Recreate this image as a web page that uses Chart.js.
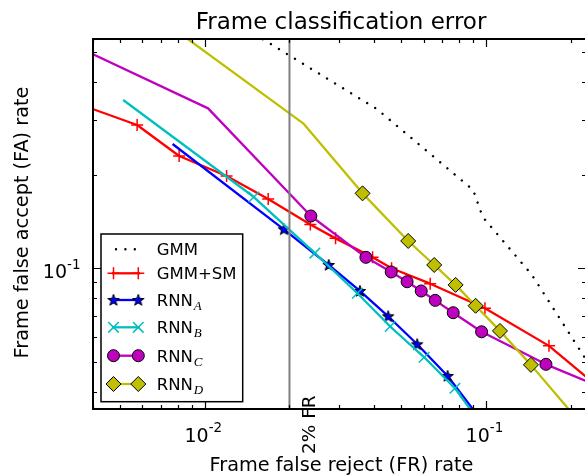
<!DOCTYPE html>
<html>
<head>
<meta charset="utf-8">
<script src="https://cdn.jsdelivr.net/npm/chart.js@4"></script>
<style>
  html, body { margin: 0; padding: 0; background: #fff; overflow: hidden; }
  #wrap { width: 585px; height: 476px; overflow: hidden; }
</style>
</head>
<body>
<div id="wrap"><canvas id="errChart" width="590" height="476"></canvas></div>
<script>
// axis ticks (log scale)
const xMajorTicks = [0.01, 0.1];
const xMinorTicks = [0.004, 0.005, 0.006, 0.007, 0.008, 0.009,
                     0.02, 0.03, 0.04, 0.05, 0.06, 0.07, 0.08, 0.09, 0.2];
const xTickLabels = ['-2', '-1'];
const yMajorTicks = [0.1];
const yMinorTicks = [0.04, 0.05, 0.06, 0.07, 0.08, 0.09, 0.2, 0.3, 0.4, 0.5];
const yTickLabels = ['-1'];

// series: false reject (x) / false accept (y)
const gmmFR = [0.01506, 0.04093, 0.0901, 0.0973, 0.1022, 0.1458, 0.225, 0.2544];
const gmmFA = [0.569, 0.3265, 0.1789, 0.1467, 0.139, 0.0952, 0.0514, 0.043];

const gmmSmFR = [0.003591, 0.005742, 0.008101, 0.01195, 0.0168, 0.02373, 0.02918,
                 0.03951, 0.04617, 0.06335, 0.0992, 0.1676, 0.2345];
const gmmSmFA = [0.3379, 0.29, 0.2304, 0.1985, 0.1674, 0.1384, 0.1249,
                 0.1085, 0.1, 0.0892, 0.0743, 0.0562, 0.0436];

const rnnAFR = [0.007677, 0.0191, 0.02758, 0.03561, 0.0449, 0.05693, 0.07306, 0.0937];
const rnnAFA = [0.2518, 0.1336, 0.1025, 0.0845, 0.07002, 0.05686, 0.04494, 0.0334];

const rnnBFR = [0.005122, 0.01494, 0.02463, 0.03489, 0.04564, 0.0603, 0.07757, 0.0921];
const rnnBFA = [0.3491, 0.1698, 0.112, 0.0831, 0.0649, 0.05163, 0.04102, 0.03313];

const rnnCFR = [0.003591, 0.01027, 0.02383, 0.03741, 0.04603, 0.05243, 0.05885,
                0.06601, 0.07649, 0.0965, 0.1635, 0.2384];
const rnnCFA = [0.5136, 0.3281, 0.1475, 0.1085, 0.0973, 0.0905, 0.0845,
                0.0788, 0.0719, 0.0624, 0.049, 0.0425];

const rnnDFR = [0.008147, 0.02238, 0.0364, 0.0529, 0.06546, 0.07801, 0.0919, 0.1122, 0.1446, 0.2073];
const rnnDFA = [0.5733, 0.2936, 0.1745, 0.1225, 0.1025, 0.0884, 0.0757, 0.0628, 0.0488, 0.03325];

const frThreshold = 0.02;

const FONT = '"DejaVu Sans", sans-serif';

function starImage() {
  const c = document.createElement('canvas');
  c.width = 14; c.height = 14;
  const g = c.getContext('2d');
  g.beginPath();
  for (let i = 0; i < 10; i++) {
    const r = i % 2 ? 2.5 : 6;
    const a = -Math.PI / 2 + i * Math.PI / 5;
    const px = 7 + r * Math.cos(a), py = 7.4 + r * Math.sin(a);
    if (i) g.lineTo(px, py); else g.moveTo(px, py);
  }
  g.closePath();
  g.fillStyle = '#0000ff';
  g.fill();
  g.lineWidth = 1;
  g.strokeStyle = '#000';
  g.stroke();
  return c;
}

const series = [
  {label: 'GMM', sub: '', fr: gmmFR, fa: gmmFA, color: '#000000', dash: [0.01, 9.4]},
  {label: 'GMM+SM', sub: '', fr: gmmSmFR, fa: gmmSmFA, color: '#ff0000',
   marker: 'cross', r: 6, face: '#ff0000', edge: '#ff0000', edgeW: 1.5, first: 1},
  {label: 'RNN', sub: 'A', fr: rnnAFR, fa: rnnAFA, color: '#0000ff',
   marker: starImage(), r: 4, face: '#0000ff', edge: '#000', edgeW: 1, first: 1},
  {label: 'RNN', sub: 'B', fr: rnnBFR, fa: rnnBFA, color: '#00bfbf',
   marker: 'crossRot', r: 7.5, face: '#00bfbf', edge: '#00bfbf', edgeW: 1.5, first: 1},
  {label: 'RNN', sub: 'C', fr: rnnCFR, fa: rnnCFA, color: '#bf00bf',
   marker: 'circle', r: 6, face: '#bf00bf', edge: '#000', edgeW: 1, first: 2},
  {label: 'RNN', sub: 'D', fr: rnnDFR, fa: rnnDFA, color: '#bfbf00',
   marker: 'rectRot', r: 7.5, face: '#bfbf00', edge: '#000', edgeW: 1, first: 2}
];

const datasets = series.map((s, i) => ({
  label: s.label,
  legendSub: s.sub,
  markR: s.r || 0,
  data: s.fr.map((v, k) => ({x: v, y: s.fa[k]})),
  borderColor: s.color,
  borderWidth: s.dash ? 2.4 : 2.3,
  borderDash: s.dash || [],
  borderCapStyle: s.dash ? 'round' : 'butt',
  borderJoinStyle: 'round',
  tension: 0,
  fill: false,
  showLine: true,
  pointStyle: s.marker || 'circle',
  pointBackgroundColor: s.face || s.color,
  pointBorderColor: s.edge || s.color,
  pointBorderWidth: s.edgeW || 1,
  pointRadius: (c) => (s.marker && c.dataIndex >= s.first && c.dataIndex < s.fr.length - 1) ? s.r : 0,
  order: series.length - i + 1
}));

datasets.push({
  label: '2% FR',
  isMarker: true,
  data: [{x: frThreshold, y: 0.01}, {x: frThreshold, y: 1}],
  borderColor: '#808080',
  borderWidth: 2,
  showLine: true,
  pointRadius: 0,
  order: 0
});

function powLabel(ctx, exp, x, baseline, align, raise) {
  ctx.font = '19px ' + FONT;
  const wBase = ctx.measureText('10').width;
  ctx.font = '13.5px ' + FONT;
  const wExp = ctx.measureText(exp).width;
  const total = wBase + wExp;
  const left = align === 'right' ? x - total : x - total / 2;
  ctx.textAlign = 'left';
  ctx.textBaseline = 'alphabetic';
  ctx.font = '19px ' + FONT;
  ctx.fillText('10', left, baseline);
  ctx.font = '13.5px ' + FONT;
  ctx.fillText(exp, left + wBase, baseline - raise);
}

const framePlugin = {
  id: 'frame',
  afterDraw(chart) {
    const ctx = chart.ctx;
    const a = chart.chartArea;
    const xs = chart.scales.x, ys = chart.scales.y;
    ctx.save();
    ctx.fillStyle = '#000';
    ctx.strokeStyle = '#000';

    // ticks, inward on all four sides
    ctx.lineWidth = 1.2;
    ctx.beginPath();
    const xt = [...xMajorTicks.map(v => [v, 8]), ...xMinorTicks.map(v => [v, 4])];
    xt.forEach(([v, len]) => {
      const px = Math.round(xs.getPixelForValue(v)) + 0.5;
      ctx.moveTo(px, a.bottom); ctx.lineTo(px, a.bottom - len);
      ctx.moveTo(px, a.top); ctx.lineTo(px, a.top + len);
    });
    const yt = [...yMajorTicks.map(v => [v, 8]), ...yMinorTicks.map(v => [v, 4])];
    yt.forEach(([v, len]) => {
      const py = Math.round(ys.getPixelForValue(v)) + 0.5;
      ctx.moveTo(a.left, py); ctx.lineTo(a.left + len, py);
      ctx.moveTo(a.right, py); ctx.lineTo(a.right - len, py);
    });
    ctx.stroke();

    // spines
    ctx.lineWidth = 2;
    ctx.strokeRect(a.left, a.top, a.right - a.left, a.bottom - a.top);

    // tick labels
    xMajorTicks.forEach((v, i) => {
      powLabel(ctx, xTickLabels[i], xs.getPixelForValue(v) - 1.5, a.bottom + 32.5, 'center', 10);
    });
    yMajorTicks.forEach((v, i) => {
      powLabel(ctx, yTickLabels[i], a.left - 12.5, ys.getPixelForValue(v) + 10, 'right', 9);
    });

    // title and axis titles
    ctx.textAlign = 'center';
    ctx.textBaseline = 'alphabetic';
    ctx.font = '23px ' + FONT;
    ctx.fillText('Frame classification error', 341, 28.5);
    ctx.font = '19.3px ' + FONT;
    ctx.fillText('Frame false reject (FR) rate', 341.5, 470.7);
    ctx.save();
    ctx.translate(28, 222.5);
    ctx.rotate(-Math.PI / 2);
    ctx.fillText('Frame false accept (FA) rate', 0, 0);
    ctx.restore();

    // 2% FR label
    ctx.save();
    ctx.translate(315, 454);
    ctx.rotate(-Math.PI / 2);
    ctx.textAlign = 'left';
    ctx.font = '18.5px ' + FONT;
    ctx.fillText('2% FR', 0, 0);
    ctx.restore();

    // legend
    const box = {x: 101, y: 234, w: 141.7, h: 167.7};
    ctx.fillStyle = '#fff';
    ctx.fillRect(box.x, box.y, box.w, box.h);
    ctx.lineWidth = 1.5;
    ctx.strokeStyle = '#000';
    ctx.strokeRect(box.x, box.y, box.w, box.h);
    const rowY = [249.3, 273.3, 300, 327.3, 355.7, 384];
    chart.data.datasets.filter(d => !d.isMarker).forEach((d, i) => {
      const y = rowY[i];
      ctx.save();
      ctx.strokeStyle = d.borderColor;
      ctx.lineWidth = d.borderWidth;
      ctx.setLineDash(d.borderDash);
      ctx.lineCap = d.borderCapStyle;
      ctx.beginPath();
      if (d.borderDash.length) {
        ctx.moveTo(116, y); ctx.lineTo(136, y);
      } else {
        ctx.moveTo(112, y); ctx.lineTo(140, y);
      }
      ctx.stroke();
      ctx.restore();
      if (d.markR) {
        [113.5, 138.3].forEach(mx => {
          ctx.save();
          ctx.fillStyle = d.pointBackgroundColor;
          ctx.strokeStyle = d.pointBorderColor;
          ctx.lineWidth = d.pointBorderWidth;
          Chart.helpers.drawPoint(ctx, {pointStyle: d.pointStyle, radius: d.markR, rotation: 0,
            borderWidth: d.pointBorderWidth}, mx, y);
          ctx.restore();
        });
      }
      ctx.fillStyle = '#000';
      ctx.textAlign = 'left';
      ctx.font = '16.5px ' + FONT;
      ctx.fillText(d.label, 156.7, y + 6);
      if (d.legendSub) {
        const w = ctx.measureText(d.label).width;
        ctx.font = 'italic 13px "Liberation Serif", serif';
        ctx.fillText(d.legendSub, 156.7 + w + 1, y + 10);
      }
    });
    ctx.restore();
  }
};

const chart = new Chart(document.getElementById('errChart'), {
  type: 'scatter',
  data: {datasets},
  options: {
    responsive: false,
    animation: false,
    events: [],
    devicePixelRatio: 1,
    layout: {padding: {left: 93, top: 39, right: 4, bottom: 67}},
    plugins: {legend: {display: false}, title: {display: false}, tooltip: {enabled: false}},
    scales: {
      x: {type: 'logarithmic', min: 0.004, max: 0.227, bounds: 'data', display: false},
      y: {type: 'logarithmic', min: 0.03516, max: 0.5493, bounds: 'data', display: false}
    }
  },
  plugins: [framePlugin]
});
</script>
</body>
</html>
